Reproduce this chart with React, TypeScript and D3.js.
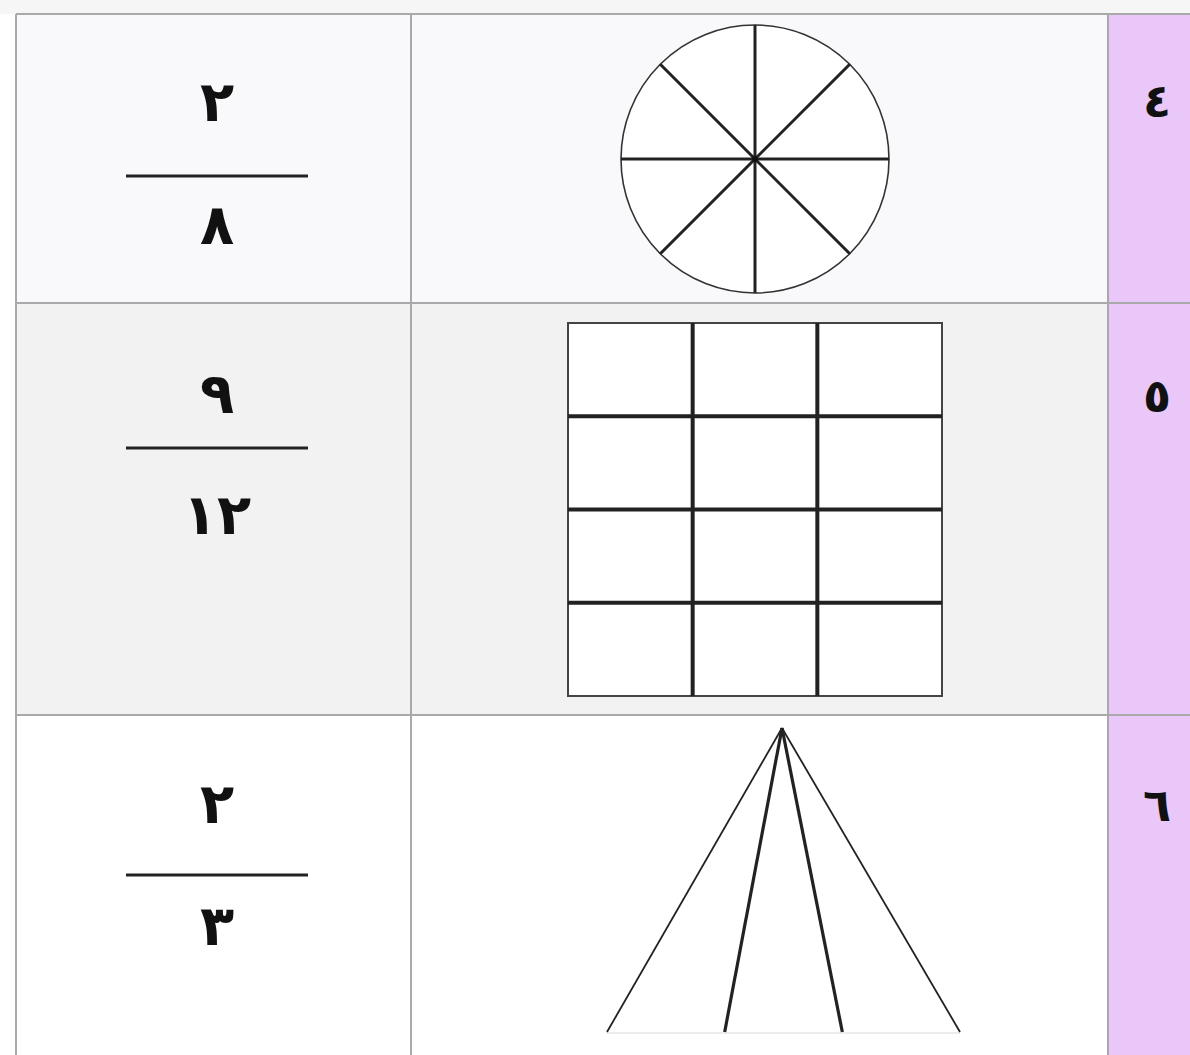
import { useEffect, useRef } from 'react';
import * as d3 from 'd3';

// row numbers (right column), fractions and the shapes drawn for them
const rowLabels = ['٤', '٥', '٦'];
const numerators = ['٢', '٩', '٢'];
const denominators = ['٨', '١٢', '٣'];
const shapes = ['circle', 'grid', 'triangle'];
const circleParts = 8;
const gridCols = 3;
const gridRows = 4;
const triangleParts = 3;

export default function App() {
  const svgRef = useRef(null);

  useEffect(() => {
    const width = 1190;
    const height = 1055;
    const svg = d3.select(svgRef.current);
    svg.attr('viewBox', `0 0 ${width} ${height}`).attr('width', width).attr('height', height);
    svg.selectAll('*').remove();

    const font = "'DejaVu Sans', sans-serif";
    const rowEdges = [14, 303, 715, 1058];
    const colEdges = [16, 411, 1108, 1192];
    const rowFill = ['#f9f9fb', '#f2f2f2', '#ffffff'];

    svg.append('rect').attr('width', width).attr('height', height).attr('fill', '#ffffff');
    svg.append('rect').attr('width', width).attr('height', rowEdges[0]).attr('fill', '#f6f6f6');

    // cell backgrounds
    rowLabels.forEach((_, i) => {
      svg
        .append('rect')
        .attr('x', colEdges[0])
        .attr('y', rowEdges[i])
        .attr('width', colEdges[2] - colEdges[0])
        .attr('height', rowEdges[i + 1] - rowEdges[i])
        .attr('fill', rowFill[i]);
    });
    svg
      .append('rect')
      .attr('x', colEdges[2])
      .attr('y', rowEdges[0])
      .attr('width', colEdges[3] - colEdges[2])
      .attr('height', rowEdges[3] - rowEdges[0])
      .attr('fill', '#e9c7f8');

    // table borders
    const border = svg.append('g').attr('stroke', '#a9a9a9').attr('stroke-width', 2);
    rowEdges.slice(0, 3).forEach((y) => {
      border.append('line').attr('x1', colEdges[0]).attr('x2', width).attr('y1', y).attr('y2', y);
    });
    colEdges.slice(0, 3).forEach((x) => {
      border.append('line').attr('x1', x).attr('x2', x).attr('y1', rowEdges[0]).attr('y2', height);
    });

    // fractions
    const barY = [176, 448, 875];
    const numY = [101, 393, 803];
    const denY = [224, 514, 925];
    const fracX = 217;
    numerators.forEach((n, i) => {
      svg
        .append('text')
        .attr('x', fracX)
        .attr('y', numY[i])
        .attr('text-anchor', 'middle')
        .attr('dominant-baseline', 'central')
        .attr('font-family', font)
        .attr('font-weight', 'bold')
        .attr('font-size', 56)
        .attr('fill', '#111')
        .text(n);
      svg
        .append('line')
        .attr('x1', 126)
        .attr('x2', 308)
        .attr('y1', barY[i])
        .attr('y2', barY[i])
        .attr('stroke', '#222')
        .attr('stroke-width', 3);
      svg
        .append('text')
        .attr('x', fracX)
        .attr('y', denY[i])
        .attr('text-anchor', 'middle')
        .attr('dominant-baseline', 'central')
        .attr('font-family', font)
        .attr('font-weight', 'bold')
        .attr('font-size', 56)
        .attr('fill', '#111')
        .text(denominators[i]);
    });

    // row numbers
    const labelY = [101, 396, 805];
    rowLabels.forEach((l, i) => {
      svg
        .append('text')
        .attr('x', 1157)
        .attr('y', labelY[i])
        .attr('text-anchor', 'middle')
        .attr('dominant-baseline', 'central')
        .attr('font-family', font)
        .attr('font-weight', 'bold')
        .attr('font-size', 46)
        .attr('fill', '#111')
        .text(l);
    });

    shapes.forEach((shape) => {
      if (shape === 'circle') {
        const cx = 755;
        const cy = 159;
        const r = 134;
        const g = svg.append('g').attr('transform', `translate(${cx},${cy})`);
        g.append('circle').attr('r', r).attr('fill', '#fff').attr('stroke', '#333').attr('stroke-width', 1.6);
        const angle = d3.scaleLinear().domain([0, circleParts]).range([0, 2 * Math.PI]);
        d3.range(circleParts).forEach((k) => {
          const a = angle(k);
          g.append('line')
            .attr('x1', 0)
            .attr('y1', 0)
            .attr('x2', r * Math.sin(a))
            .attr('y2', -r * Math.cos(a))
            .attr('stroke', '#222')
            .attr('stroke-width', 3);
        });
        g.append('circle').attr('r', 3).attr('fill', '#111');
      } else if (shape === 'grid') {
        const x = d3.scaleBand().domain(d3.range(gridCols)).range([568, 942]);
        const y = d3.scaleBand().domain(d3.range(gridRows)).range([323, 696]);
        const g = svg.append('g');
        g.append('rect')
          .attr('x', 568)
          .attr('y', 323)
          .attr('width', 374)
          .attr('height', 373)
          .attr('fill', '#fff')
          .attr('stroke', '#444')
          .attr('stroke-width', 2);
        d3.range(1, gridCols).forEach((c) => {
          g.append('line')
            .attr('x1', x(c))
            .attr('x2', x(c))
            .attr('y1', 323)
            .attr('y2', 696)
            .attr('stroke', '#222')
            .attr('stroke-width', 4);
        });
        d3.range(1, gridRows).forEach((r) => {
          g.append('line')
            .attr('x1', 568)
            .attr('x2', 942)
            .attr('y1', y(r))
            .attr('y2', y(r))
            .attr('stroke', '#222')
            .attr('stroke-width', 4);
        });
      } else {
        const apex = [782, 728];
        const baseY = 1032;
        const bx = d3.scaleLinear().domain([0, triangleParts]).range([607, 960]);
        svg
          .append('line')
          .attr('x1', bx(0))
          .attr('x2', bx(triangleParts))
          .attr('y1', baseY + 1)
          .attr('y2', baseY + 1)
          .attr('stroke', '#ececec')
          .attr('stroke-width', 2);
        d3.range(triangleParts + 1).forEach((k) => {
          const outer = k === 0 || k === triangleParts;
          svg
            .append('line')
            .attr('x1', apex[0])
            .attr('y1', apex[1])
            .attr('x2', bx(k))
            .attr('y2', baseY)
            .attr('stroke', '#222')
            .attr('stroke-width', outer ? 1.8 : 3.2);
        });
      }
    });
  }, []);

  return (
    <div style={{ position: 'absolute', top: 0, left: 0 }}>
      <svg ref={svgRef} style={{ display: 'block' }}></svg>
    </div>
  );
}
